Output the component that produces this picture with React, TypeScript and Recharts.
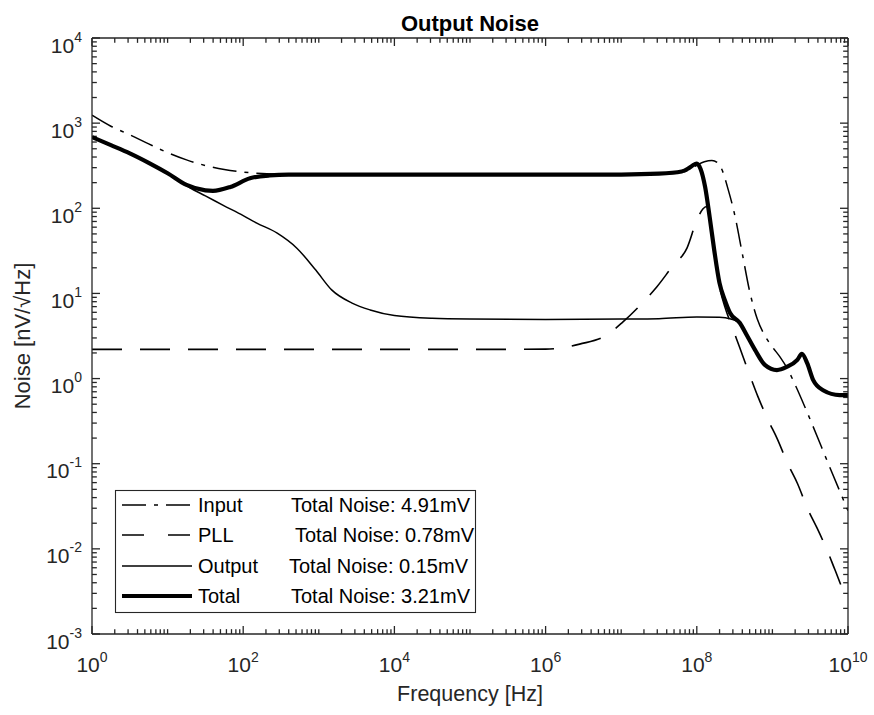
import React from 'react';
import { LineChart, Line, XAxis, YAxis, ReferenceLine } from 'recharts';

const FONT = '"Liberation Sans", Arial, Helvetica, sans-serif';
const AXIS = '#262626';

// Frequency given as decade exponent (log10 Hz), noise in nV/√Hz
const inputExp = [0, 0.25, 0.5, 0.75, 1, 1.25, 1.5, 1.75, 2, 2.25, 2.5, 3, 4, 5, 6, 7, 7.5, 7.8, 7.9, 8.0, 8.1, 8.2, 8.28, 8.35, 8.4, 8.5, 8.6, 8.7, 8.8, 8.9, 9.0, 9.1, 9.2, 9.3, 9.5, 9.75, 10];
const inputNoise = [1240, 920, 730, 570, 450, 370, 318, 285, 266, 256, 251, 249, 248, 248, 248, 248, 252, 262, 285, 320, 352, 365, 340, 260, 185, 85, 30, 10.5, 5, 3.2, 2.35, 1.8, 1.3, 0.85, 0.33, 0.095, 0.028];

const pllExp = [0, 1, 2, 3, 4, 5, 6, 6.2, 6.45, 6.81, 7.02, 7.29, 7.47, 7.69, 7.87, 8.0, 8.08, 8.13, 8.17, 8.23, 8.3, 8.37, 8.47, 8.57, 8.7, 8.81, 8.94, 9.06, 9.21, 9.33, 9.47, 9.59, 9.74, 9.83, 9.96, 10];
const pllNoise = [2.2, 2.2, 2.2, 2.2, 2.2, 2.2, 2.22, 2.28, 2.54, 3.24, 4.6, 7.9, 11.9, 21.5, 34, 72, 98, 105, 75, 30, 12, 7, 4.0, 2.28, 1.1, 0.61, 0.33, 0.2, 0.097, 0.059, 0.029, 0.0176, 0.0089, 0.0056, 0.003, 0.0027];

const outputExp = [0, 0.25, 0.5, 0.75, 1.0, 1.3, 1.5, 1.73, 2.0, 2.18, 2.45, 2.71, 2.96, 3.17, 3.44, 3.68, 4.0, 4.5, 5, 6, 7, 7.5, 8.0, 8.3, 8.45, 8.57, 8.66, 8.77, 8.9, 9.06, 9.19, 9.33, 9.39, 9.46, 9.54, 9.67, 9.89, 10];
const outputNoise = [686, 552, 442, 342, 258, 173, 140, 109, 82, 67, 51, 34, 18.8, 11, 7.7, 6.4, 5.5, 5.1, 5.0, 4.95, 5.0, 5.05, 5.3, 5.25, 5.0, 4.5, 3.25, 2.17, 1.45, 1.26, 1.37, 1.66, 1.95, 1.52, 0.96, 0.73, 0.64, 0.64];

const totalExp = [0, 0.25, 0.5, 0.75, 1.0, 1.25, 1.5, 1.6, 1.83, 2.09, 2.35, 2.6, 3, 4, 5, 6, 7, 7.5, 7.8, 7.9, 7.97, 8.0, 8.05, 8.11, 8.17, 8.23, 8.3, 8.37, 8.44, 8.57, 8.66, 8.77, 8.9, 9.06, 9.19, 9.33, 9.39, 9.46, 9.54, 9.67, 9.89, 10];
const totalNoise = [686, 552, 442, 342, 258, 188, 162, 160, 178, 225, 243, 248, 248, 248, 248, 248, 249, 255, 270, 298, 328, 334, 290, 178, 79, 32.5, 13.3, 8.4, 5.9, 4.5, 3.25, 2.17, 1.45, 1.26, 1.37, 1.66, 1.95, 1.52, 0.96, 0.73, 0.64, 0.64];

const seriesNames = ['Input', 'PLL', 'Output', 'Total'];
const totalNoiseTexts = ['Total Noise: 4.91mV', 'Total Noise: 0.78mV', 'Total Noise: 0.15mV', 'Total Noise: 3.21mV'];

// Axis tick labels (decade exponents)
const xMajorExps = [0, 2, 4, 6, 8, 10];
const yMajorExps = [-3, -2, -1, 0, 1, 2, 3, 4];
const minorMultipliers = [2, 3, 4, 5, 6, 7, 8, 9];

const X_MIN = 1;
const X_MAX = 1e10;
const Y_MIN = 1e-3;
const Y_MAX = 1e4;

const toPoints = (exps: number[], vals: number[]) => exps.map((e, i) => ({ f: Math.pow(10, e), v: vals[i] }));
const inputData = toPoints(inputExp, inputNoise);
const pllData = toPoints(pllExp, pllNoise);
const outputData = toPoints(outputExp, outputNoise);
const totalData = toPoints(totalExp, totalNoise);

const buildTicks = (lo: number, hi: number) => {
  const t: number[] = [];
  for (let k = lo; k < hi; k++) {
    t.push(Math.pow(10, k));
    minorMultipliers.forEach((m) => t.push(m * Math.pow(10, k)));
  }
  t.push(Math.pow(10, hi));
  return t;
};
const xTicks = buildTicks(0, 10);
const yTicks = buildTicks(-3, 4);

const decadeOf = (v: number) => {
  const e = Math.log10(v);
  const r = Math.round(e);
  return Math.abs(e - r) < 1e-6 ? r : null;
};
const isXMajor = (v: number) => {
  const d = decadeOf(v);
  return d !== null && xMajorExps.includes(d);
};
const isYMajor = (v: number) => {
  const d = decadeOf(v);
  return d !== null && yMajorExps.includes(d);
};

// tick mark lengths expressed in decades of each axis (≈8px major, ≈5px minor)
const TICK_X_MAJOR = 0.106;
const TICK_X_MINOR = 0.064;
const TICK_Y_MAJOR = 0.094;
const TICK_Y_MINOR = 0.057;
const TICK_W = 1.3;

const styles = [
  { dash: '24 8 4 8', width: 1.5, legendDash: '24 8 4 8' },
  { dash: '30 18', width: 1.6, legendDash: '22 24' },
  { dash: undefined, width: 1.5, legendDash: undefined },
  { dash: undefined, width: 4.2, legendDash: undefined },
];
const seriesData = [inputData, pllData, outputData, totalData];

const XTickBottom = (props: any) => {
  const { x, y, payload } = props;
  const d = decadeOf(payload.value);
  if (!isXMajor(payload.value)) return <g />;
  return (
    <text x={x} y={y + 38} textAnchor="middle" fill={AXIS} fontFamily={FONT}>
      <tspan fontSize={21}>10</tspan>
      <tspan fontSize={14} dy={-10}>{d}</tspan>
    </text>
  );
};

const YTickLeft = (props: any) => {
  const { x, y, payload } = props;
  const d = decadeOf(payload.value);
  if (!isYMajor(payload.value)) return <g />;
  return (
    <text x={x - 10} y={y + 14.5} textAnchor="end" fill={AXIS} fontFamily={FONT}>
      <tspan fontSize={21}>10</tspan>
      <tspan fontSize={14} dy={-11}>{d}</tspan>
    </text>
  );
};

const axisLineStyle = { stroke: AXIS, strokeWidth: 1.3 };

const legendRowsY = [15, 45, 76, 106];
const legendTotalX = [176, 180, 174, 176];

const tickMarks = () => {
  const marks: React.ReactNode[] = [];
  xTicks.forEach((v, i) => {
    const len = isXMajor(v) ? TICK_Y_MAJOR : TICK_Y_MINOR;
    marks.push(
      <ReferenceLine
        key={`xb${i}`}
        xAxisId="b"
        yAxisId="l"
        segment={[{ x: v, y: Y_MIN }, { x: v, y: Y_MIN * Math.pow(10, len) }]}
        stroke={AXIS}
        strokeWidth={TICK_W}
        ifOverflow="visible"
      />,
      <ReferenceLine
        key={`xt${i}`}
        xAxisId="b"
        yAxisId="l"
        segment={[{ x: v, y: Y_MAX }, { x: v, y: Y_MAX / Math.pow(10, len) }]}
        stroke={AXIS}
        strokeWidth={TICK_W}
        ifOverflow="visible"
      />
    );
  });
  yTicks.forEach((v, i) => {
    const len = isYMajor(v) ? TICK_X_MAJOR : TICK_X_MINOR;
    marks.push(
      <ReferenceLine
        key={`yl${i}`}
        xAxisId="b"
        yAxisId="l"
        segment={[{ x: X_MIN, y: v }, { x: X_MIN * Math.pow(10, len), y: v }]}
        stroke={AXIS}
        strokeWidth={TICK_W}
        ifOverflow="visible"
      />,
      <ReferenceLine
        key={`yr${i}`}
        xAxisId="b"
        yAxisId="l"
        segment={[{ x: X_MAX, y: v }, { x: X_MAX / Math.pow(10, len), y: v }]}
        stroke={AXIS}
        strokeWidth={TICK_W}
        ifOverflow="visible"
      />
    );
  });
  return marks;
};

export default function App() {
  return (
    <div style={{ position: 'absolute', left: 0, top: 0, width: 874, height: 715, background: '#fff' }}>
      <LineChart width={874} height={715} margin={{ top: 28, right: 16, bottom: 21, left: 12 }}>
        <XAxis
          xAxisId="b"
          dataKey="f"
          type="number"
          scale="log"
          domain={[X_MIN, X_MAX]}
          allowDataOverflow
          ticks={xTicks}
          interval={0}
          tick={(p: any) => <XTickBottom {...p} />}
          tickLine={false}
          tickSize={0}
          tickMargin={0}
          axisLine={axisLineStyle}
          height={60}
          orientation="bottom"
        />
        <XAxis
          xAxisId="t"
          dataKey="f"
          type="number"
          scale="log"
          domain={[X_MIN, X_MAX]}
          allowDataOverflow
          ticks={xTicks}
          interval={0}
          tick={false}
          tickLine={false}
          axisLine={axisLineStyle}
          height={10}
          orientation="top"
        />
        <YAxis
          yAxisId="l"
          dataKey="v"
          type="number"
          scale="log"
          domain={[Y_MIN, Y_MAX]}
          allowDataOverflow
          ticks={yTicks}
          interval={0}
          tick={(p: any) => <YTickLeft {...p} />}
          tickLine={false}
          tickSize={0}
          tickMargin={0}
          axisLine={axisLineStyle}
          width={80}
          orientation="left"
        />
        <YAxis
          yAxisId="r"
          dataKey="v"
          type="number"
          scale="log"
          domain={[Y_MIN, Y_MAX]}
          allowDataOverflow
          ticks={yTicks}
          interval={0}
          tick={false}
          tickLine={false}
          axisLine={axisLineStyle}
          width={10}
          orientation="right"
        />
        {tickMarks()}
        {seriesData.map((data, i) => (
          <Line
            key={seriesNames[i]}
            xAxisId="b"
            yAxisId="l"
            data={data}
            dataKey="v"
            name={seriesNames[i]}
            type="monotone"
            stroke="#000"
            strokeWidth={styles[i].width}
            strokeDasharray={styles[i].dash}
            strokeLinejoin="round"
            dot={false}
            activeDot={false}
            isAnimationActive={false}
          />
        ))}
      </LineChart>
      <svg width={874} height={715} style={{ position: 'absolute', left: 0, top: 0, pointerEvents: 'none' }}>
        <text x={470} y={31} textAnchor="middle" fontFamily={FONT} fontWeight="bold" fontSize={22} fill="#000">
          Output Noise
        </text>
        <text x={470} y={701} textAnchor="middle" fontFamily={FONT} fontSize={21.5} fill={AXIS}>
          Frequency [Hz]
        </text>
        <text x={30} y={336} textAnchor="middle" fontFamily={FONT} fontSize={22} fill={AXIS} transform="rotate(-90 30 336)">
          Noise [nV/√Hz]
        </text>
        <g transform="translate(115 490)">
          <rect x={0.5} y={0.5} width={360} height={122} fill="#fff" stroke={AXIS} strokeWidth={1.1} />
          {seriesNames.map((name, i) => (
            <g key={name}>
              <line
                x1={7}
                x2={77}
                y1={legendRowsY[i]}
                y2={legendRowsY[i]}
                stroke="#000"
                strokeWidth={styles[i].width}
                strokeDasharray={styles[i].legendDash}
              />
              <text x={83} y={legendRowsY[i] + 7} fontFamily={FONT} fontSize={20} fill="#000">
                {name}
              </text>
              <text x={legendTotalX[i]} y={legendRowsY[i] + 7} fontFamily={FONT} fontSize={20} fill="#000">
                {totalNoiseTexts[i]}
              </text>
            </g>
          ))}
        </g>
      </svg>
    </div>
  );
}
